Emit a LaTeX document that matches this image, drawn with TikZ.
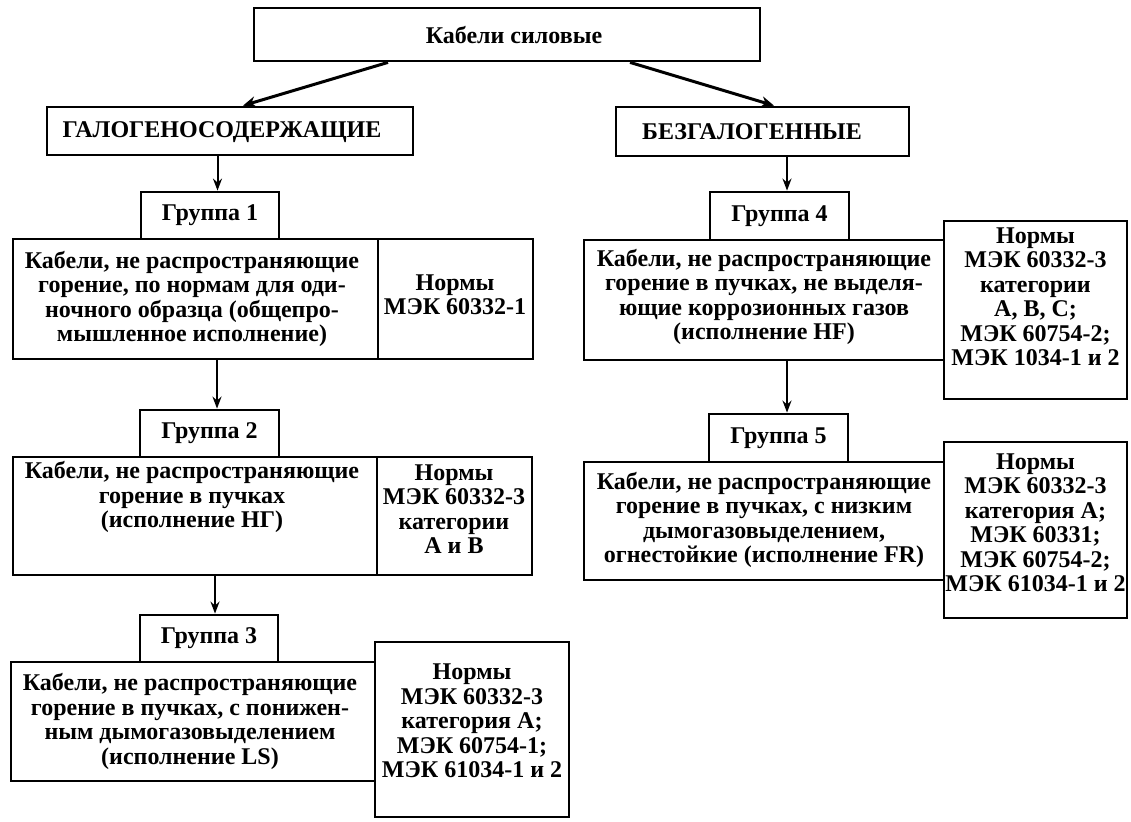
\documentclass[tikz,border=0pt]{standalone}
\usepackage{fontspec}
\setmainfont{Liberation Serif}
\usetikzlibrary{arrows.meta}
\begin{document}
\begin{tikzpicture}[x=1pt,y=-1pt,
  bx/.style={draw, line width=2.8pt, inner sep=0pt, fill=white},
  txt/.style={align=center, inner sep=0pt, font=\fontsize{24}{24.5}\selectfont\bfseries},
  arr/.style={line width=2pt, -{Stealth[length=12pt,width=9pt]}},
  darr/.style={line width=3pt, -{Stealth[length=13pt,width=11pt]}}]
\useasboundingbox[fill=white] (0,0) rectangle (1131,821);

% top level
\node[bx, minimum width=506pt, minimum height=53pt] (top) at (507,34.5) {};
\node[txt] (toptx) at (514,35) {Кабели силовые};

\node[bx, minimum width=366pt, minimum height=48pt] (gal) at (230,131) {};
\node[txt] (galtx) at (222,132) {ГАЛОГЕНОСОДЕРЖАЩИЕ};

\node[bx, minimum width=293pt, minimum height=49pt] (bez) at (762.5,131.5) {};
\node[txt] (beztx) at (752,132) {БЕЗГАЛОГЕННЫЕ};

% group 1
\node[bx, minimum width=138pt, minimum height=47pt] (g1l) at (210,215.5) {};
\node[txt] (g1ltx) at (g1l) {Группа 1};
\node[bx, minimum width=365pt, minimum height=120pt] (g1m) at (195.5,299) {};
\node[txt] (g1mtx) at (192,299) {Кабели, не распространяющие\\горение, по нормам для оди-\\ночного образца (общепро-\\мышленное исполнение)};
\node[bx, minimum width=155pt, minimum height=120pt] (g1n) at (455.5,299) {};
\node[txt] (g1ntx) at (455,295) {Нормы\\МЭК 60332-1};

% group 2
\node[bx, minimum width=139pt, minimum height=47pt] (g2l) at (209.5,433.5) {};
\node[txt] (g2ltx) at (g2l) {Группа 2};
\node[bx, minimum width=364pt, minimum height=118pt] (g2m) at (195,516) {};
\node[txt] (g2mtx) at (192,497) {Кабели, не распространяющие\\горение в пучках\\(исполнение НГ)};
\node[bx, minimum width=155pt, minimum height=118pt] (g2n) at (454.5,516) {};
\node[txt] (g2ntx) at (454,509) {Нормы\\МЭК 60332-3\\категории\\А и В};

% group 3
\node[bx, minimum width=138pt, minimum height=47pt] (g3l) at (209,638.5) {};
\node[txt] (g3ltx) at (g3l) {Группа 3};
\node[bx, minimum width=364pt, minimum height=119pt] (g3m) at (193,721.5) {};
\node[txt] (g3mtx) at (190,721.5) {Кабели, не распространяющие\\горение в пучках, с понижен-\\ным дымогазовыделением\\(исполнение LS)};
\node[bx, minimum width=194pt, minimum height=175pt] (g3n) at (472,729.5) {};
\node[txt] (g3ntx) at (472,721) {Нормы\\МЭК 60332-3\\категория А;\\МЭК 60754-1;\\МЭК 61034-1 и 2};

% group 4
\node[bx, minimum width=139pt, minimum height=48pt] (g4l) at (779.5,216) {};
\node[txt] (g4ltx) at (g4l) {Группа 4};
\node[bx, minimum width=360pt, minimum height=120pt] (g4m) at (764,300) {};
\node[txt] (g4mtx) at (764,297) {Кабели, не распространяющие\\горение в пучках, не выделя-\\ющие коррозионных газов\\(исполнение HF)};
\node[bx, minimum width=183pt, minimum height=178pt] (g4n) at (1035.5,310) {};
\node[txt] (g4ntx) at (1035.5,297) {Нормы\\МЭК 60332-3\\категории\\А, В, С;\\МЭК 60754-2;\\МЭК 1034-1 и 2};

% group 5
\node[bx, minimum width=139pt, minimum height=48pt] (g5l) at (778.5,438) {};
\node[txt] (g5ltx) at (g5l) {Группа 5};
\node[bx, minimum width=360pt, minimum height=118pt] (g5m) at (764,521) {};
\node[txt] (g5mtx) at (764,520) {Кабели, не распространяющие\\горение в пучках, с низким\\дымогазовыделением,\\огнестойкие (исполнение FR)};
\node[bx, minimum width=183pt, minimum height=176pt] (g5n) at (1035.5,530) {};
\node[txt] (g5ntx) at (1035.5,523) {Нормы\\МЭК 60332-3\\категория А;\\МЭК 60331;\\МЭК 60754-2;\\МЭК 61034-1 и 2};

% connectors
\draw[darr] ([xshift=-119pt]top.south) -- ([xshift=13pt]gal.north);
\draw[darr] ([xshift=123pt]top.south) -- ([xshift=11.5pt]bez.north);
\draw[arr] ([xshift=7.5pt]g1l.north |- gal.south) -- ([xshift=7.5pt]g1l.north);
\draw[arr] ([xshift=7.5pt]g2l.north |- g1m.south) -- ([xshift=7.5pt]g2l.north);
\draw[arr] ([xshift=6pt]g3l.north |- g2m.south) -- ([xshift=6pt]g3l.north);
\draw[arr] ([xshift=7.5pt]g4l.north |- bez.south) -- ([xshift=7.5pt]g4l.north);
\draw[arr] ([xshift=8.5pt]g5l.north |- g4m.south) -- ([xshift=8.5pt]g5l.north);
\end{tikzpicture}
\end{document}
